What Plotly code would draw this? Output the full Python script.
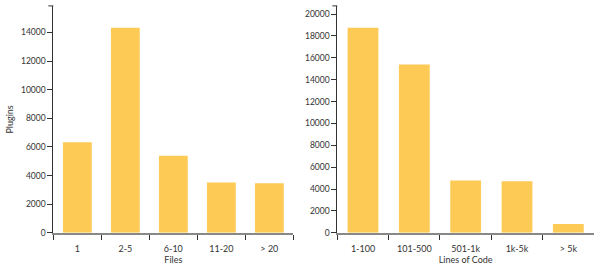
import plotly.graph_objects as go

files_cats = ["1", "2-5", "6-10", "11-20", "> 20"]
files_vals = [6330, 14320, 5390, 3520, 3470]
loc_cats = ["1-100", "101-500", "501-1k", "1k-5k", "> 5k"]
loc_vals = [18740, 15390, 4780, 4720, 810]

bar_color = "#FDCA55"
font_family = "Lato, 'DejaVu Sans', sans-serif"
text_color = "#333333"

fig = go.Figure()
fig.add_trace(go.Bar(x=files_cats, y=files_vals, marker=dict(color=bar_color, line=dict(width=0)),
                     xaxis="x", yaxis="y", showlegend=False))
fig.add_trace(go.Bar(x=loc_cats, y=loc_vals, marker=dict(color=bar_color, line=dict(width=0)),
                     xaxis="x2", yaxis="y2", showlegend=False))

xcommon = dict(type="category", tickson="boundaries", ticks="outside", ticklen=5, tickwidth=1,
               tickcolor="#333333", showline=True, linecolor="#888888", linewidth=2,
               showgrid=False, zeroline=False, tickfont=dict(size=9, color=text_color),
               ticklabelstandoff=6, range=[-0.5, 4.5], fixedrange=True)
ycommon = dict(ticks="outside", ticklen=5, tickwidth=1, tickcolor="#333333", showline=True,
               linecolor="#333333", linewidth=1, showgrid=False, zeroline=False, dtick=2000,
               tickformat="d", tickfont=dict(size=8.5, color=text_color), fixedrange=True)

fig.update_layout(
    width=600, height=267, margin=dict(l=0, r=0, t=0, b=0),
    paper_bgcolor="white", plot_bgcolor="white",
    font=dict(family=font_family, color=text_color),
    bargap=0.4,
    xaxis=dict(domain=[0.0889, 0.4889], anchor="y",
               title=dict(text="Files", font=dict(size=9), standoff=1), **xcommon),
    yaxis=dict(domain=[0.1112, 0.9775], anchor="x", range=[0, 15850],
               title=dict(text="Plugins", font=dict(size=9), standoff=5), **ycommon),
    xaxis2=dict(domain=[0.5622, 0.99], anchor="y2",
                title=dict(text="Lines of Code", font=dict(size=9), standoff=1), **xcommon),
    yaxis2=dict(domain=[0.1112, 0.9775], anchor="x2", range=[0, 20744], **ycommon),
)

for xr, yr in (("x domain", "y domain"), ("x2 domain", "y2 domain")):
    fig.add_shape(type="line", xref=xr, yref=yr, xsizemode="pixel", xanchor=0,
                  x0=-5, x1=0, y0=1, y1=1, line=dict(color="#333333", width=1))

fig.write_html("out.html")
